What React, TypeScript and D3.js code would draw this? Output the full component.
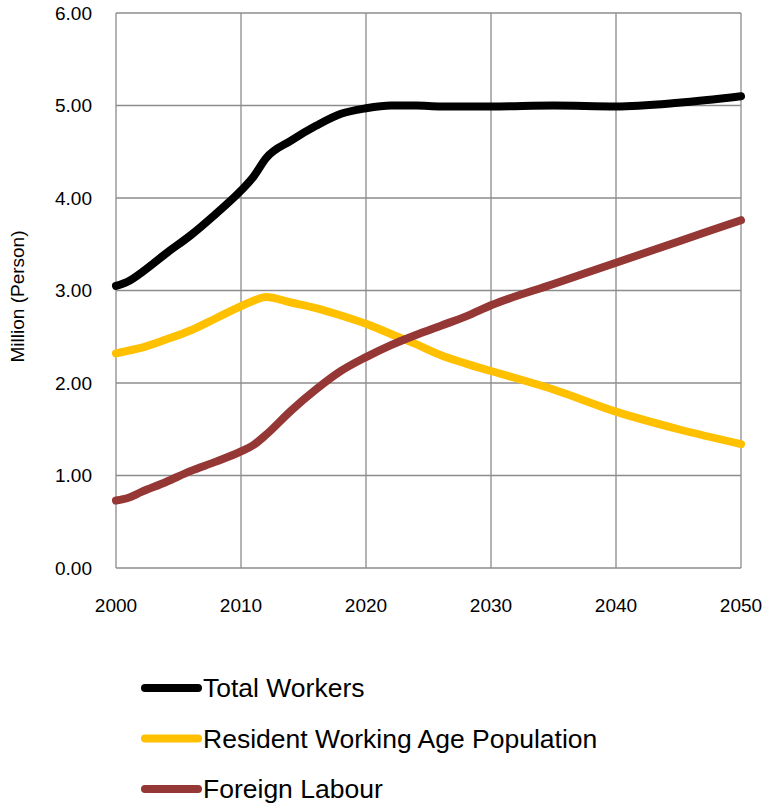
import React from "react";
import * as d3 from "d3";

const years = [2000, 2001, 2002, 2004, 2006, 2008, 2010, 2011, 2012, 2014, 2016, 2018, 2020, 2022, 2024, 2026, 2028, 2030, 2035, 2040, 2045, 2050];
const totalWorkers = [3.05, 3.10, 3.19, 3.40, 3.60, 3.83, 4.08, 4.23, 4.43, 4.62, 4.78, 4.91, 4.97, 5.00, 5.00, 4.99, 4.99, 4.99, 5.00, 4.99, 5.03, 5.10];
const residentWorkingAge = [2.32, 2.35, 2.38, 2.47, 2.57, 2.70, 2.83, 2.89, 2.93, 2.87, 2.81, 2.73, 2.64, 2.53, 2.42, 2.30, 2.21, 2.13, 1.93, 1.69, 1.50, 1.34];
const foreignLabour = [0.73, 0.76, 0.82, 0.93, 1.05, 1.15, 1.26, 1.33, 1.44, 1.70, 1.93, 2.13, 2.28, 2.41, 2.52, 2.62, 2.72, 2.84, 3.07, 3.30, 3.53, 3.76];

const seriesNames = ["Total Workers", "Resident Working Age Population", "Foreign Labour"];
const seriesColors = ["#000000", "#FFC000", "#953735"];
const xTicks = [2000, 2010, 2020, 2030, 2040, 2050];
const yTicks = [0, 1, 2, 3, 4, 5, 6];
const yLabel = "Million (Person)";

export default function App() {
  const W = 769, H = 808;
  const x = d3.scaleLinear().domain([2000, 2050]).range([116, 741]);
  const y = d3.scaleLinear().domain([0, 6]).range([568, 13]);
  const allSeries = [totalWorkers, residentWorkingAge, foreignLabour];
  const line = d3
    .line<[number, number]>()
    .x((d) => x(d[0]))
    .y((d) => y(d[1]))
    .curve(d3.curveMonotoneX);
  const font = "Arial, 'Liberation Sans', sans-serif";
  const gridColor = "#8c8c8c";

  return (
    <div style={{ position: "absolute", left: 0, top: 0 }}>
      <svg width={W} height={H} style={{ display: "block", background: "#fff" }}>
        {yTicks.map((t) => (
          <line key={"h" + t} x1={x(2000)} x2={x(2050)} y1={y(t)} y2={y(t)} stroke={gridColor} strokeWidth={1.3} />
        ))}
        {xTicks.map((t) => (
          <line key={"v" + t} x1={x(t)} x2={x(t)} y1={y(0)} y2={y(6)} stroke={gridColor} strokeWidth={1.3} />
        ))}
        {yTicks.map((t) => (
          <text key={"yt" + t} x={92} y={y(t)} dy="0.35em" textAnchor="end" fontFamily={font} fontSize={19} fill="#000">
            {t.toFixed(2)}
          </text>
        ))}
        {xTicks.map((t) => (
          <text key={"xt" + t} x={x(t)} y={612} textAnchor="middle" fontFamily={font} fontSize={19} fill="#000">
            {t}
          </text>
        ))}
        <text
          transform={`translate(24, ${(y(0) + y(6)) / 2 + 6}) rotate(-90)`}
          textAnchor="middle"
          fontFamily={font}
          fontSize={19}
          fill="#000"
        >
          {yLabel}
        </text>
        {allSeries.map((vals, i) => (
          <path
            key={"s" + i}
            d={line(years.map((yr, j) => [yr, vals[j]] as [number, number])) || ""}
            fill="none"
            stroke={seriesColors[i]}
            strokeWidth={8}
            strokeLinejoin="round"
            strokeLinecap="round"
          />
        ))}
        {seriesNames.map((name, i) => {
          const ly = 688 + i * 50.5;
          return (
            <g key={"lg" + i}>
              <line x1={145} x2={198} y1={ly} y2={ly} stroke={seriesColors[i]} strokeWidth={8} strokeLinecap="round" />
              <text x={203} y={ly} dy="0.35em" fontFamily={font} fontSize={26.5} fill="#000">
                {name}
              </text>
            </g>
          );
        })}
      </svg>
    </div>
  );
}
